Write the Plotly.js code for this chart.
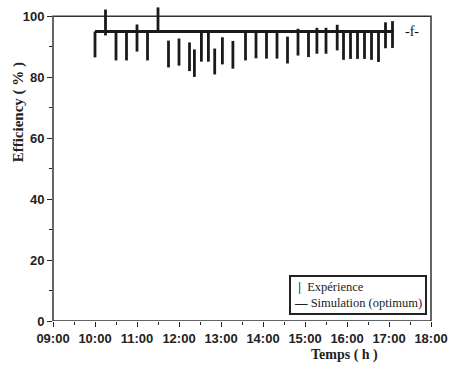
<!DOCTYPE html>
<html>
<head>
<meta charset="utf-8">
<script src="https://cdn.plot.ly/plotly-3.0.1.min.js"></script>
<style>html,body{margin:0;padding:0;background:#fff;}#chart{width:454px;height:368px;}</style>
</head>
<body>
<div id="chart"></div>
<script>
// Experimental measurements: time, lower and upper ends of each vertical segment (%)
const expTimes = ["10:00","10:15","10:30","10:45","11:00","11:15","11:30","11:45","12:00","12:15","12:22","12:32","12:42","12:51","13:02","13:17","13:35","13:50","14:05","14:20","14:35","14:50","15:05","15:17","15:30","15:46","15:55","16:05","16:15","16:25","16:35","16:45","16:55","17:05"];
const expLow  = [86.5,93.7,85.5,85.5,88.4,85.5,94.7,83.2,83.8,82.0,80.1,85.1,85.1,80.9,84.2,82.8,85.5,86.2,86.1,86.1,84.5,87.1,86.6,87.7,87.7,88.8,85.7,86.0,86.0,86.0,85.7,85.0,89.5,89.6];
const expHigh = [95.0,102.2,95.0,95.0,97.3,95.0,102.9,92.0,92.7,91.4,89.1,95.0,95.0,89.4,93.1,91.9,95.0,95.0,95.0,95.0,93.3,95.9,95.0,96.2,96.2,97.2,95.0,95.0,95.0,95.0,95.0,95.0,98.0,98.4];
// Simulation (optimum)
const simTimes = ["10:00","17:07"];
const simEff   = [95,95];
const xTickVals = ["09:00","10:00","11:00","12:00","13:00","14:00","15:00","16:00","17:00","18:00"];
const yTickVals = [0,20,40,60,80,100];

const day = "2000-01-01 ";
const toDate = t => day + t + ":00";

const segX = [], segY = [];
for (let i = 0; i < expTimes.length; i++) {
  segX.push(toDate(expTimes[i]), toDate(expTimes[i]), null);
  segY.push(expLow[i], expHigh[i], null);
}

const serif = "Liberation Serif, Times New Roman, serif";
const narrow = "Liberation Sans Narrow, Arial Narrow, Liberation Sans, Arial, sans-serif";
const ink = "#1a1a1a";

const traces = [
  {
    x: segX, y: segY, type: "scatter", mode: "lines", name: "Expérience",
    line: {color: ink, width: 2.8}, showlegend: false,
    connectgaps: false, hoverinfo: "skip"
  },
  {
    x: simTimes.map(toDate), y: simEff, type: "scatter", mode: "lines",
    name: "Simulation (optimum)", line: {color: ink, width: 3}, showlegend: false
  }
];

const layout = {
  width: 454, height: 368,
  margin: {l: 53, r: 23, t: 1, b: 47},
  paper_bgcolor: "#fff", plot_bgcolor: "#fff",
  showlegend: false,
  xaxis: {
    type: "date",
    range: [toDate("09:00"), toDate("18:00")],
    tickvals: xTickVals.map(toDate), ticktext: xTickVals,
    ticks: "outside", ticklen: 5, tickwidth: 1, tickcolor: "#222",
    minor: {dtick: 1800000, ticks: "outside", ticklen: 3, tickcolor: "#222"},
    showgrid: false, zeroline: false, showline: false,
    tickfont: {family: narrow, size: 13, color: "#222", weight: "bold"}
  },
  yaxis: {
    range: [0, 105], tickvals: yTickVals,
    ticks: "outside", ticklen: 5, tickwidth: 1, tickcolor: "#222",
    minor: {tickvals: [10,30,50,70,90], ticks: "outside", ticklen: 3, tickcolor: "#222"},
    showgrid: false, zeroline: false, showline: false,
    tickfont: {family: narrow, size: 13, color: "#222", weight: "bold"}
  },
  shapes: [
    {type: "rect", xref: "paper", yref: "y", x0: 0, x1: 1, y0: 0, y1: 100,
     line: {color: "#333", width: 1.5}, fillcolor: "rgba(0,0,0,0)", layer: "below"}
  ],
  annotations: [
    {text: "Efficiency ( % )", xref: "paper", yref: "paper", x: -0.0926, y: 0.652,
     textangle: -90, showarrow: false, xanchor: "center", yanchor: "middle",
     font: {family: serif, size: 15, color: "#222", weight: "bold"}},
    {text: "Temps ( h )", xref: "paper", yref: "paper", x: 0.772, y: -0.106,
     showarrow: false, xanchor: "center", yanchor: "middle",
     font: {family: serif, size: 14, color: "#222", weight: "bold"}},
    {text: "-f-", xref: "paper", yref: "paper", x: 0.95, y: 0.905,
     showarrow: false, xanchor: "center", yanchor: "middle",
     font: {family: serif, size: 14, color: "#111"}},
    {text: "&nbsp;<b>|</b>&nbsp; Expérience<br><b>—</b> Simulation (optimum)", xref: "paper", yref: "paper",
     x: 0.9886, y: 0.02, xanchor: "right", yanchor: "bottom", align: "left",
     showarrow: false, bgcolor: "#fff", bordercolor: "#222", borderwidth: 2, borderpad: 3,
     font: {family: serif, size: 12.5, color: "#222"}}
  ]
};

Plotly.newPlot("chart", traces, layout, {displayModeBar: false, staticPlot: true});
</script>
</body>
</html>
